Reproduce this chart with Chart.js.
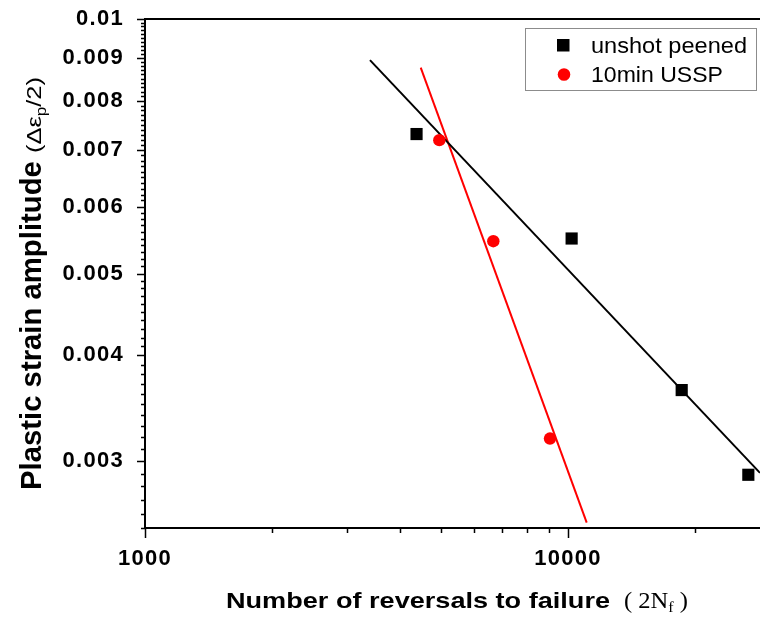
<!DOCTYPE html>
<html><head><meta charset="utf-8">
<script src="https://cdn.jsdelivr.net/npm/chart.js@4"></script>
<style>html,body{margin:0;padding:0;background:#fff}#wrap{width:760px;height:619px;position:relative}</style>
</head><body><div id="wrap"><canvas id="c" width="760" height="619"></canvas></div>
<script>
// ---- data ----
const seriesNames = ['unshot peened', '10min USSP'];
const unshotN = [4385, 10200, 18570, 26690];
const unshotAmp = [0.00731, 0.00550, 0.00364, 0.00289];
const usspN = [4964, 6660, 9066];
const usspAmp = [0.00719, 0.00546, 0.00319];
// fitted lines (end points)
const unshotFitN = [3403, 28440];
const unshotFitAmp = [0.00894, 0.002905];
const usspFitN = [4486, 11072];
const usspFitAmp = [0.00876, 0.002537];
// ticks
const xMajorTicks = [1000, 10000];
const xTickLabels = ['1000', '10000'];
const xMinorTicks = [2000, 3000, 4000, 5000, 6000, 7000, 8000, 9000, 20000];
const yMajorTicks = [0.003, 0.004, 0.005, 0.006, 0.007, 0.008, 0.009, 0.01];
const yTickLabels = ['0.003', '0.004', '0.005', '0.006', '0.007', '0.008', '0.009', '0.01'];
const yMinorTicks = [];
for (let i = 25; i < 100; i++) { if (i % 10 !== 0) yMinorTicks.push(i / 10000); }

const toPts = (xs, ys) => xs.map((x, i) => ({ x: x, y: ys[i] }));

function drawGroup(ctx, segs, x, y, targetW) {
  let total = 0;
  segs.forEach(s => { ctx.font = s.font; s.w = ctx.measureText(s.t).width; total += s.w; });
  const sc = targetW ? targetW / total : 1;
  ctx.save();
  ctx.translate(x, y);
  ctx.scale(sc, 1);
  let cx = 0;
  segs.forEach(s => { ctx.font = s.font; ctx.fillText(s.t, cx, s.dy || 0); cx += s.w; });
  ctx.restore();
}

const spacing = {
  id: 'spacing',
  beforeDraw(chart) { try { chart.ctx.letterSpacing = '1.3px'; } catch (e) {} }
};

const decor = {
  id: 'decor',
  afterDraw(chart) {
    const ctx = chart.ctx, ca = chart.chartArea;
    const xs = chart.scales.x, ys = chart.scales.y;
    ctx.save();
    try { ctx.letterSpacing = '0px'; } catch (e) {}
    ctx.strokeStyle = '#000';
    ctx.lineWidth = 1.5;
    // y ticks
    ctx.beginPath();
    yMajorTicks.forEach(v => { const p = Math.round(ys.getPixelForValue(v)) + 0.5; ctx.moveTo(ca.left - 8, p); ctx.lineTo(ca.left, p); });
    yMinorTicks.forEach(v => { const p = Math.round(ys.getPixelForValue(v)) + 0.5; ctx.moveTo(ca.left - 4, p); ctx.lineTo(ca.left, p); });
    // x ticks
    xMajorTicks.forEach(v => { const p = Math.round(xs.getPixelForValue(v)) + 0.5; ctx.moveTo(p, ca.bottom); ctx.lineTo(p, ca.bottom + 10); });
    xMinorTicks.forEach(v => { const p = Math.round(xs.getPixelForValue(v)) + 0.5; ctx.moveTo(p, ca.bottom); ctx.lineTo(p, ca.bottom + 5); });
    ctx.stroke();
    // top frame line
    ctx.lineWidth = 2;
    ctx.beginPath();
    ctx.moveTo(ca.left, ca.top); ctx.lineTo(ca.right, ca.top);
    ctx.stroke();

    // legend
    ctx.lineWidth = 1;
    ctx.strokeStyle = '#8c8c8c';
    ctx.strokeRect(525.5, 28.5, 231, 62);
    ctx.fillStyle = '#000';
    ctx.fillRect(557, 39, 12.5, 12.5);
    ctx.fillStyle = '#ff0000';
    ctx.beginPath(); ctx.arc(564, 74.5, 6.3, 0, Math.PI * 2); ctx.fill();
    ctx.fillStyle = '#000';
    ctx.textBaseline = 'alphabetic';
    ctx.textAlign = 'left';
    drawGroup(ctx, [{ t: seriesNames[0], font: '22px "Liberation Sans", Arial, sans-serif' }], 591, 53, 156);
    drawGroup(ctx, [{ t: seriesNames[1], font: '22px "Liberation Sans", Arial, sans-serif' }], 591, 82, 132);

    // x axis title
    drawGroup(ctx, [{ t: 'Number of reversals to failure', font: 'bold 22px "Liberation Sans", Arial, sans-serif' }], 226, 608, 384);
    drawGroup(ctx, [
      { t: '( 2N', font: '23px "Liberation Serif", "Times New Roman", serif' },
      { t: 'f', font: '15px "Liberation Serif", "Times New Roman", serif', dy: 4 },
      { t: ' )', font: '23px "Liberation Serif", "Times New Roman", serif' }
    ], 624, 608, 64);

    // y axis title (rotated)
    ctx.save();
    ctx.translate(41, 490);
    ctx.rotate(-Math.PI / 2);
    drawGroup(ctx, [{ t: 'Plastic strain amplitude ', font: 'bold 29px "Liberation Sans", Arial, sans-serif' }], 0, 0, 337);
    drawGroup(ctx, [
      { t: '(\u0394\u03b5', font: '21px "Liberation Sans", Arial, sans-serif' },
      { t: 'p', font: '14px "Liberation Sans", Arial, sans-serif', dy: 5 },
      { t: '/2)', font: '21px "Liberation Sans", Arial, sans-serif' }
    ], 337, 0, 76);
    ctx.restore();
    ctx.restore();
  }
};

const tickFont = { family: '"Liberation Sans", Arial, sans-serif', size: 22, weight: 'bold' };

new Chart(document.getElementById('c'), {
  type: 'scatter',
  data: {
    datasets: [
      { label: seriesNames[0], data: toPts(unshotN, unshotAmp), pointStyle: 'rect', pointRadius: 8.6, pointHoverRadius: 8.6,
        backgroundColor: '#000', borderColor: '#000', borderWidth: 0, order: 1 },
      { label: seriesNames[1], data: toPts(usspN, usspAmp), pointStyle: 'circle', pointRadius: 6.2, pointHoverRadius: 6.2,
        backgroundColor: '#ff0000', borderColor: '#ff0000', borderWidth: 0, order: 1 },
      { type: 'line', label: 'fit1', data: toPts(unshotFitN, unshotFitAmp), borderColor: '#000', borderWidth: 2,
        pointRadius: 0, fill: false, tension: 0, order: 2 },
      { type: 'line', label: 'fit2', data: toPts(usspFitN, usspFitAmp), borderColor: '#ff0000', borderWidth: 2,
        pointRadius: 0, fill: false, tension: 0, order: 2 }
    ]
  },
  options: {
    responsive: false, animation: false, devicePixelRatio: 1,
    layout: { autoPadding: false, padding: { top: 19, right: 0, left: 0, bottom: 0 } },
    plugins: { legend: { display: false }, tooltip: { enabled: false } },
    scales: {
      x: {
        type: 'logarithmic', min: 1000, max: 28440, position: 'bottom',
        grid: { display: false, drawTicks: false },
        border: { display: true, color: '#000', width: 2 },
        ticks: { color: '#000', font: tickFont, padding: 18, autoSkip: false, maxRotation: 0,
          callback: (v) => { const i = xMajorTicks.indexOf(v); return i >= 0 ? xTickLabels[i] : ''; } },
        afterBuildTicks: (s) => { s.ticks = xMajorTicks.map(v => ({ value: v })); },
        afterFit: (s) => { s.height = 91; s.paddingLeft = 0; s.paddingRight = 0; }
      },
      y: {
        type: 'logarithmic', min: 0.0025, max: 0.01, position: 'left',
        grid: { display: false, drawTicks: false },
        border: { display: true, color: '#000', width: 2 },
        ticks: { color: '#000', font: tickFont, padding: 21, autoSkip: false,
          callback: (v) => { const i = yMajorTicks.findIndex(t => Math.abs(t - v) < 1e-9); return i >= 0 ? yTickLabels[i] : ''; } },
        afterBuildTicks: (s) => { s.ticks = yMajorTicks.map(v => ({ value: v })); },
        afterFit: (s) => { s.width = 145; s.paddingTop = 0; s.paddingBottom = 0; }
      }
    }
  },
  plugins: [spacing, decor]
});
</script>
</body></html>
